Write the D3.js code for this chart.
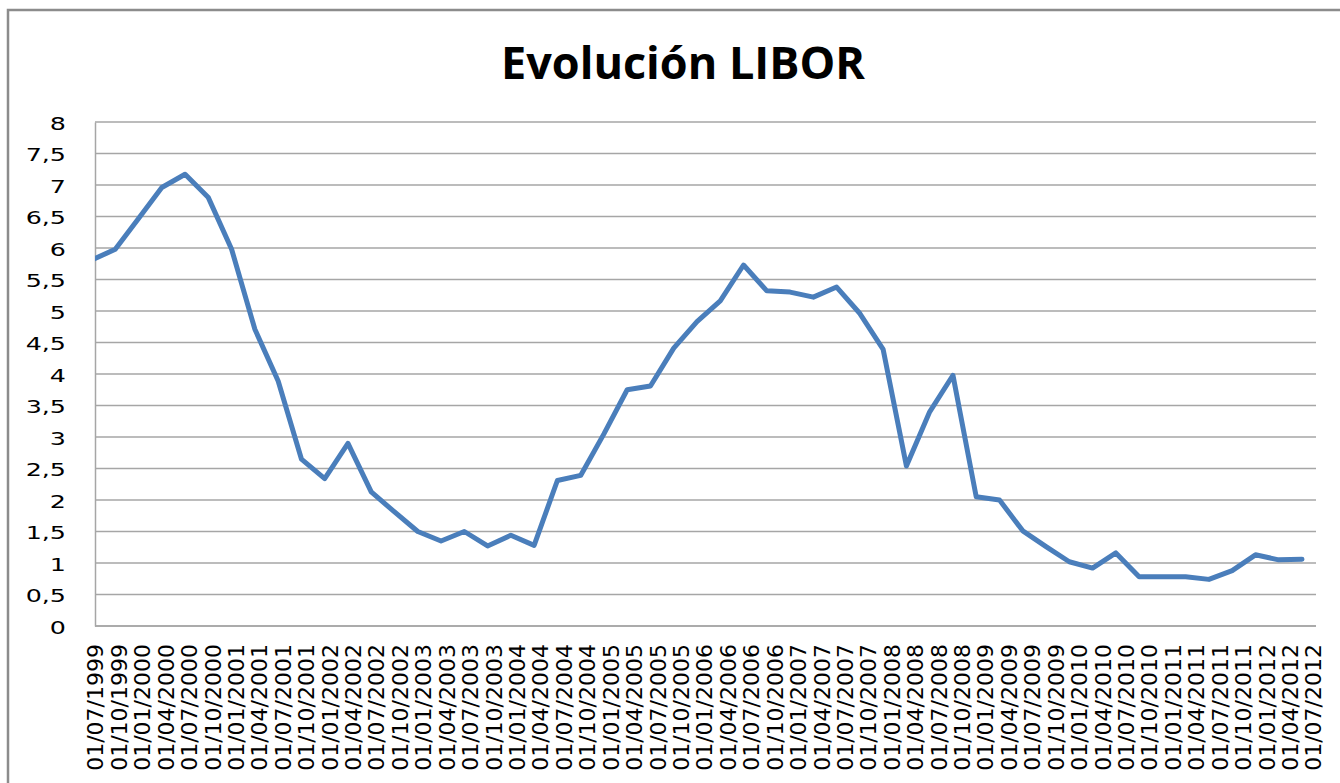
<!DOCTYPE html>
<html>
<head>
<meta charset="utf-8">
<script src="https://cdn.jsdelivr.net/npm/d3@7"></script>
<style>
	body { margin: 0; background: #fff; }
	svg { display: block; }
</style>
</head>
<body>
<div id="chartDIV"></div>
<script>
// 데이터
const chartTitle = "Evolución LIBOR";

const fechas = [
	"01/07/1999", "01/10/1999", "01/01/2000", "01/04/2000", "01/07/2000", "01/10/2000",
	"01/01/2001", "01/04/2001", "01/07/2001", "01/10/2001", "01/01/2002", "01/04/2002",
	"01/07/2002", "01/10/2002", "01/01/2003", "01/04/2003", "01/07/2003", "01/10/2003",
	"01/01/2004", "01/04/2004", "01/07/2004", "01/10/2004", "01/01/2005", "01/04/2005",
	"01/07/2005", "01/10/2005", "01/01/2006", "01/04/2006", "01/07/2006", "01/10/2006",
	"01/01/2007", "01/04/2007", "01/07/2007", "01/10/2007", "01/01/2008", "01/04/2008",
	"01/07/2008", "01/10/2008", "01/01/2009", "01/04/2009", "01/07/2009", "01/10/2009",
	"01/01/2010", "01/04/2010", "01/07/2010", "01/10/2010", "01/01/2011", "01/04/2011",
	"01/07/2011", "01/10/2011", "01/01/2012", "01/04/2012", "01/07/2012"
];

const libor = [
	5.81, 5.98, 6.47, 6.96, 7.17, 6.80, 5.98, 4.71, 3.89, 2.65,
	2.34, 2.90, 2.13, 1.81, 1.50, 1.35, 1.50, 1.27, 1.44, 1.28,
	2.31, 2.39, 3.05, 3.75, 3.81, 4.41, 4.83, 5.16, 5.73, 5.32,
	5.30, 5.22, 5.38, 4.96, 4.39, 2.54, 3.40, 3.98, 2.05, 2.00,
	1.51, 1.26, 1.02, 0.92, 1.16, 0.78, 0.78, 0.78, 0.74, 0.88,
	1.13, 1.05, 1.06
];

const yTicks = [0, 0.5, 1, 1.5, 2, 2.5, 3, 3.5, 4, 4.5, 5, 5.5, 6, 6.5, 7, 7.5, 8];

const svgWidth = 1340;
const svgHeight = 783;
const plot = { left: 95, right: 1316, top: 122, bottom: 626 };

const svg = d3
	.select("#chartDIV")
	.append("svg")
	.attr("width", svgWidth)
	.attr("height", svgHeight);

svg.append("rect")
	.attr("width", svgWidth)
	.attr("height", svgHeight)
	.attr("fill", "#fff");

// 차트 테두리
svg.append("rect")
	.attr("x", 8)
	.attr("y", 10)
	.attr("width", 1400)
	.attr("height", 1000)
	.attr("fill", "none")
	.attr("stroke", "#8c8c8c")
	.attr("stroke-width", 2.5);

// 제목
svg.append("text")
	.attr("x", 683)
	.attr("y", 79)
	.attr("text-anchor", "middle")
	.attr("font-family", "'Open Sans', sans-serif")
	.attr("font-weight", "bold")
	.attr("font-size", 45)
	.attr("textLength", 364)
	.attr("lengthAdjust", "spacingAndGlyphs")
	.attr("fill", "#000")
	.text(chartTitle);

// 스케일
const xScale = d3.scalePoint().domain(fechas).range([92, 1302]);
const xLabelScale = d3.scalePoint().domain(fechas).range([95, 1313]);
const yScale = d3.scaleLinear().domain([0, 8]).range([plot.bottom, plot.top]);

// 가로 격자선
svg.append("g")
	.selectAll("line")
	.data(yTicks)
	.enter()
	.append("line")
	.attr("x1", plot.left)
	.attr("x2", plot.right)
	.attr("y1", (d) => yScale(d))
	.attr("y2", (d) => yScale(d))
	.attr("stroke", "#a6a6a6")
	.attr("stroke-width", 1.5);

// y 축
const fmt = (d) => String(d).replace(".", ",");
const yAxisG = svg.append("g")
	.attr("transform", `translate(${plot.left}, 0)`)
	.call(d3.axisLeft(yScale).tickValues(yTicks).tickFormat(fmt).tickSize(0));

yAxisG.select(".domain").attr("stroke", "#a6a6a6").attr("stroke-width", 1.5);
yAxisG.selectAll("text")
	.attr("font-family", "'DejaVu Sans', sans-serif")
	.attr("font-size", 17.5)
	.attr("fill", "#000")
	.attr("x", -29 / 1.45)
	.attr("dy", "0.4em")
	.attr("transform", "scale(1.45,1)");

// x 축 (라벨)
const xAxisG = svg.append("g")
	.attr("transform", `translate(0, ${plot.bottom})`)
	.call(d3.axisBottom(xLabelScale).tickSize(0));

xAxisG.select(".domain").remove();
xAxisG.append("line")
	.attr("x1", plot.left)
	.attr("x2", plot.right)
	.attr("stroke", "#a6a6a6")
	.attr("stroke-width", 1.5);
xAxisG.selectAll("text")
	.attr("font-family", "'DejaVu Sans', sans-serif")
	.attr("font-size", 22)
	.attr("fill", "#000")
	.attr("text-anchor", "end")
	.attr("transform", "rotate(-90)")
	.attr("x", -18)
	.attr("y", 0)
	.attr("dy", "0.36em");

// 선 그리기
svg.append("clipPath")
	.attr("id", "plotClip")
	.append("rect")
	.attr("x", plot.left)
	.attr("y", plot.top - 10)
	.attr("width", plot.right - plot.left)
	.attr("height", plot.bottom - plot.top + 20);

const line = d3.line()
	.x((d, i) => xScale(fechas[i]))
	.y((d) => yScale(d));

svg.append("path")
	.datum(libor)
	.attr("clip-path", "url(#plotClip)")
	.attr("d", line)
	.attr("fill", "none")
	.attr("stroke", "#4a7ebb")
	.attr("stroke-width", 5)
	.attr("stroke-linejoin", "round")
	.attr("stroke-linecap", "round");
</script>
</body>
</html>
